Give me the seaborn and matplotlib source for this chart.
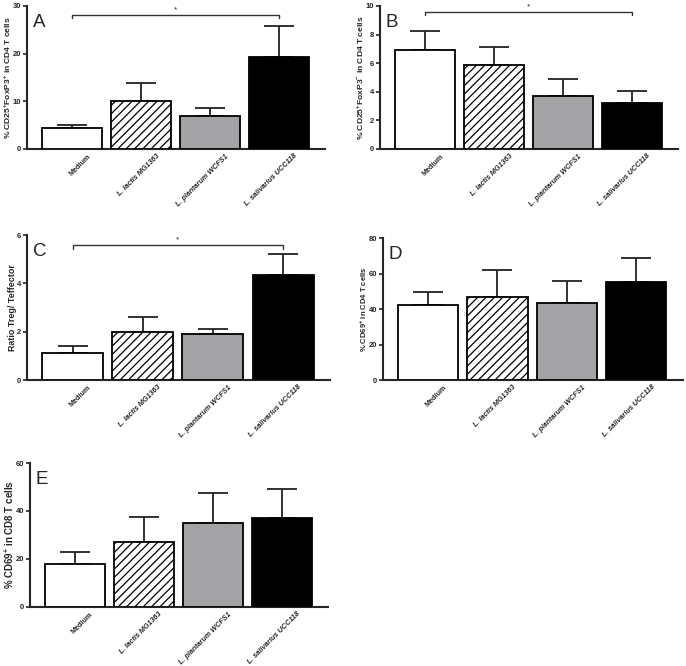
import numpy as np
import pandas as pd
import matplotlib
matplotlib.use('Agg')
import matplotlib.pyplot as plt
import matplotlib.transforms as mtransforms
import seaborn as sns

# Data
groups = ['Medium', 'L. lactis MG1363', 'L. plantarum WCFS1', 'L. salivarius UCC118']
a_mean = [4.3, 10.1, 7.0, 19.3]
a_err = [0.7, 3.7, 1.6, 6.4]
b_mean = [6.9, 5.9, 3.7, 3.2]
b_err = [1.35, 1.2, 1.2, 0.85]
c_mean = [1.1, 2.0, 1.9, 4.35]
c_err = [0.3, 0.6, 0.2, 0.85]
d_mean = [42.5, 46.5, 43.5, 55.0]
d_err = [7.0, 15.5, 12.5, 13.5]
e_mean = [17.8, 27.0, 35.0, 37.0]
e_err = [5.2, 10.5, 12.3, 12.2]

sns.set_style('ticks')
plt.rcParams['font.family'] = ['Liberation Sans', 'DejaVu Sans']
plt.rcParams['font.weight'] = 'bold'
plt.rcParams['mathtext.default'] = 'regular'
plt.rcParams['hatch.linewidth'] = 0.9

bar_colors = ['white', 'white', '#a2a2a6', 'black']

fig = plt.figure(figsize=(6.86, 6.66), dpi=100)

# letter, means, errors, axes rect, ymax, tick step, ylabel, label size, bracket height
panels = [
    ('A', a_mean, a_err, [0.0394, 0.7763, 0.4344, 0.2147], 30, 10,
     '% CD25$^{+}$FoxP3$^{+}$ in CD4 T cells', 6.0, 28.2),
    ('B', b_mean, b_err, [0.554, 0.7763, 0.4344, 0.2147], 10, 2,
     '% CD25$^{+}$FoxP3$^{-}$ in CD4 T cells', 6.1, 9.6),
    ('C', c_mean, c_err, [0.0394, 0.4294, 0.4417, 0.2177], 6, 2,
     'Ratio Treg/ Teffector', 6.4, 5.59),
    ('D', d_mean, d_err, [0.558, 0.4294, 0.4373, 0.2132], 80, 20,
     '% CD69$^{+}$ in CD4 T cells', 5.5, None),
    ('E', e_mean, e_err, [0.0437, 0.0886, 0.4344, 0.2162], 60, 20,
     '% CD69$^{+}$ in CD8 T cells', 7.0, None),
]

for letter, means, errs, rect, ymax, ystep, ylabel, lsize, bracket in panels:
    ax = fig.add_axes(rect)
    df = pd.DataFrame({'group': groups, 'value': means})
    sns.barplot(data=df, x='group', y='value', hue='group', palette=bar_colors,
                edgecolor='black', linewidth=1.3, width=0.87, errorbar=None,
                legend=False, ax=ax, zorder=3)
    ax.patches[1].set_hatch('////')
    x = np.arange(len(groups))
    ax.errorbar(x, means, yerr=[np.zeros(len(means)), errs], fmt='none',
                ecolor='#222222', elinewidth=1.3, capsize=11, capthick=1.3,
                zorder=2)
    ax.set_xlim(-0.65, 3.67)
    ax.set_ylim(0, ymax)
    ax.set_yticks(np.arange(0, ymax + 0.01, ystep))
    sns.despine(ax=ax)
    for sp in ['left', 'bottom']:
        ax.spines[sp].set_linewidth(1.5)
    ax.tick_params(axis='y', labelsize=5.5, width=1.2, length=3, pad=1)
    ax.tick_params(axis='x', length=0, pad=2)
    ax.set_xlabel('')
    ax.set_ylabel(ylabel, fontsize=lsize, fontweight='bold', labelpad=0)
    ax.set_xticks(x)
    ax.set_xticklabels(groups, rotation=45, ha='right', rotation_mode='anchor',
                       fontsize=5.2)
    offset = mtransforms.ScaledTranslation(15 / 100, -1 / 100, fig.dpi_scale_trans)
    for i, lab in enumerate(ax.get_xticklabels()):
        if i > 0:
            lab.set_fontstyle('italic')
        lab.set_transform(lab.get_transform() + offset)
    ax.annotate(letter, xy=(0, 1), xycoords='axes fraction', xytext=(4, -6),
                textcoords='offset points', fontsize=13.5, fontweight='normal',
                ha='left', va='top')
    if bracket is not None:
        d = ymax * 0.025
        ax.plot([0, 0, 3, 3], [bracket - d, bracket, bracket, bracket - d],
                color='#333333', lw=1.0, clip_on=False)
        ax.text(1.5, bracket + ymax * 0.01, '*', ha='center', va='bottom',
                fontsize=6, fontweight='normal')

fig.savefig('out.png', dpi=100)
